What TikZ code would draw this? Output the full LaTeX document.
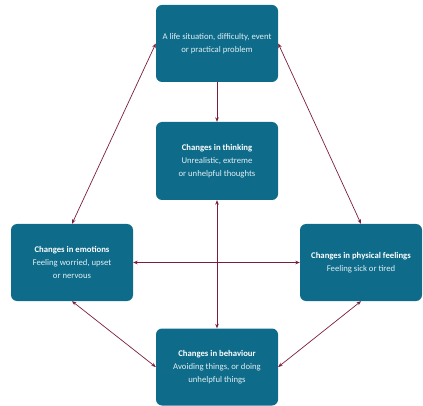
\documentclass[tikz,border=0pt]{standalone}
\usepackage{fontspec}
\setmainfont{Carlito}
\usetikzlibrary{arrows.meta}
\definecolor{boxteal}{RGB}{14,108,138}
\definecolor{arrowred}{RGB}{122,30,60}
\definecolor{subtext}{RGB}{225,238,243}
\tikzset{
  cbox/.style={rectangle, rounded corners=6pt, fill=boxteal, draw=none,
    minimum width=122pt, minimum height=77pt, align=center,
    text=subtext, font=\fontsize{8.7pt}{13pt}\selectfont, inner sep=2pt},
  conn/.style={draw=arrowred, line width=0.7pt},
  tipb/.style={-{Stealth[length=4.5pt,width=3.6pt]}},
  tipbb/.style={{Stealth[length=4.5pt,width=3.6pt]}-{Stealth[length=4.5pt,width=3.6pt]}}
}
\newcommand{\ttl}[1]{{\color{white}\bfseries #1}}
\begin{document}
\begin{tikzpicture}[x=1pt,y=-1pt]
\useasboundingbox (0,0) rectangle (423,406);
\node[cbox] (top) at (217,43.5) {A life situation, difficulty, event\\or practical problem};
\node[cbox, minimum height=78pt] (think) at (217,161) {\ttl{Changes in thinking}\\Unrealistic, extreme\\or unhelpful thoughts};
\node[cbox] (emo) at (72,262.5) {\ttl{Changes in emotions}\\Feeling worried, upset\\or nervous};
\node[cbox] (phys) at (361,262.5) {\ttl{Changes in physical feelings}\\Feeling sick or tired};
\node[cbox] (behav) at (217,367) {\ttl{Changes in behaviour}\\Avoiding things, or doing\\unhelpful things};
\draw[conn, tipb] (top.south) -- (think.north);
\draw[conn, tipbb] (top.west) -- (emo.north);
\draw[conn, tipbb] (top.east) -- (phys.north);
\draw[conn, tipbb] (emo.east) -- (phys.west);
\draw[conn, tipbb] (think.south) -- (behav.north);
\draw[conn, tipbb] (emo.south) -- (behav.west);
\draw[conn, tipbb] (phys.south) -- (behav.east);
\end{tikzpicture}
\end{document}
